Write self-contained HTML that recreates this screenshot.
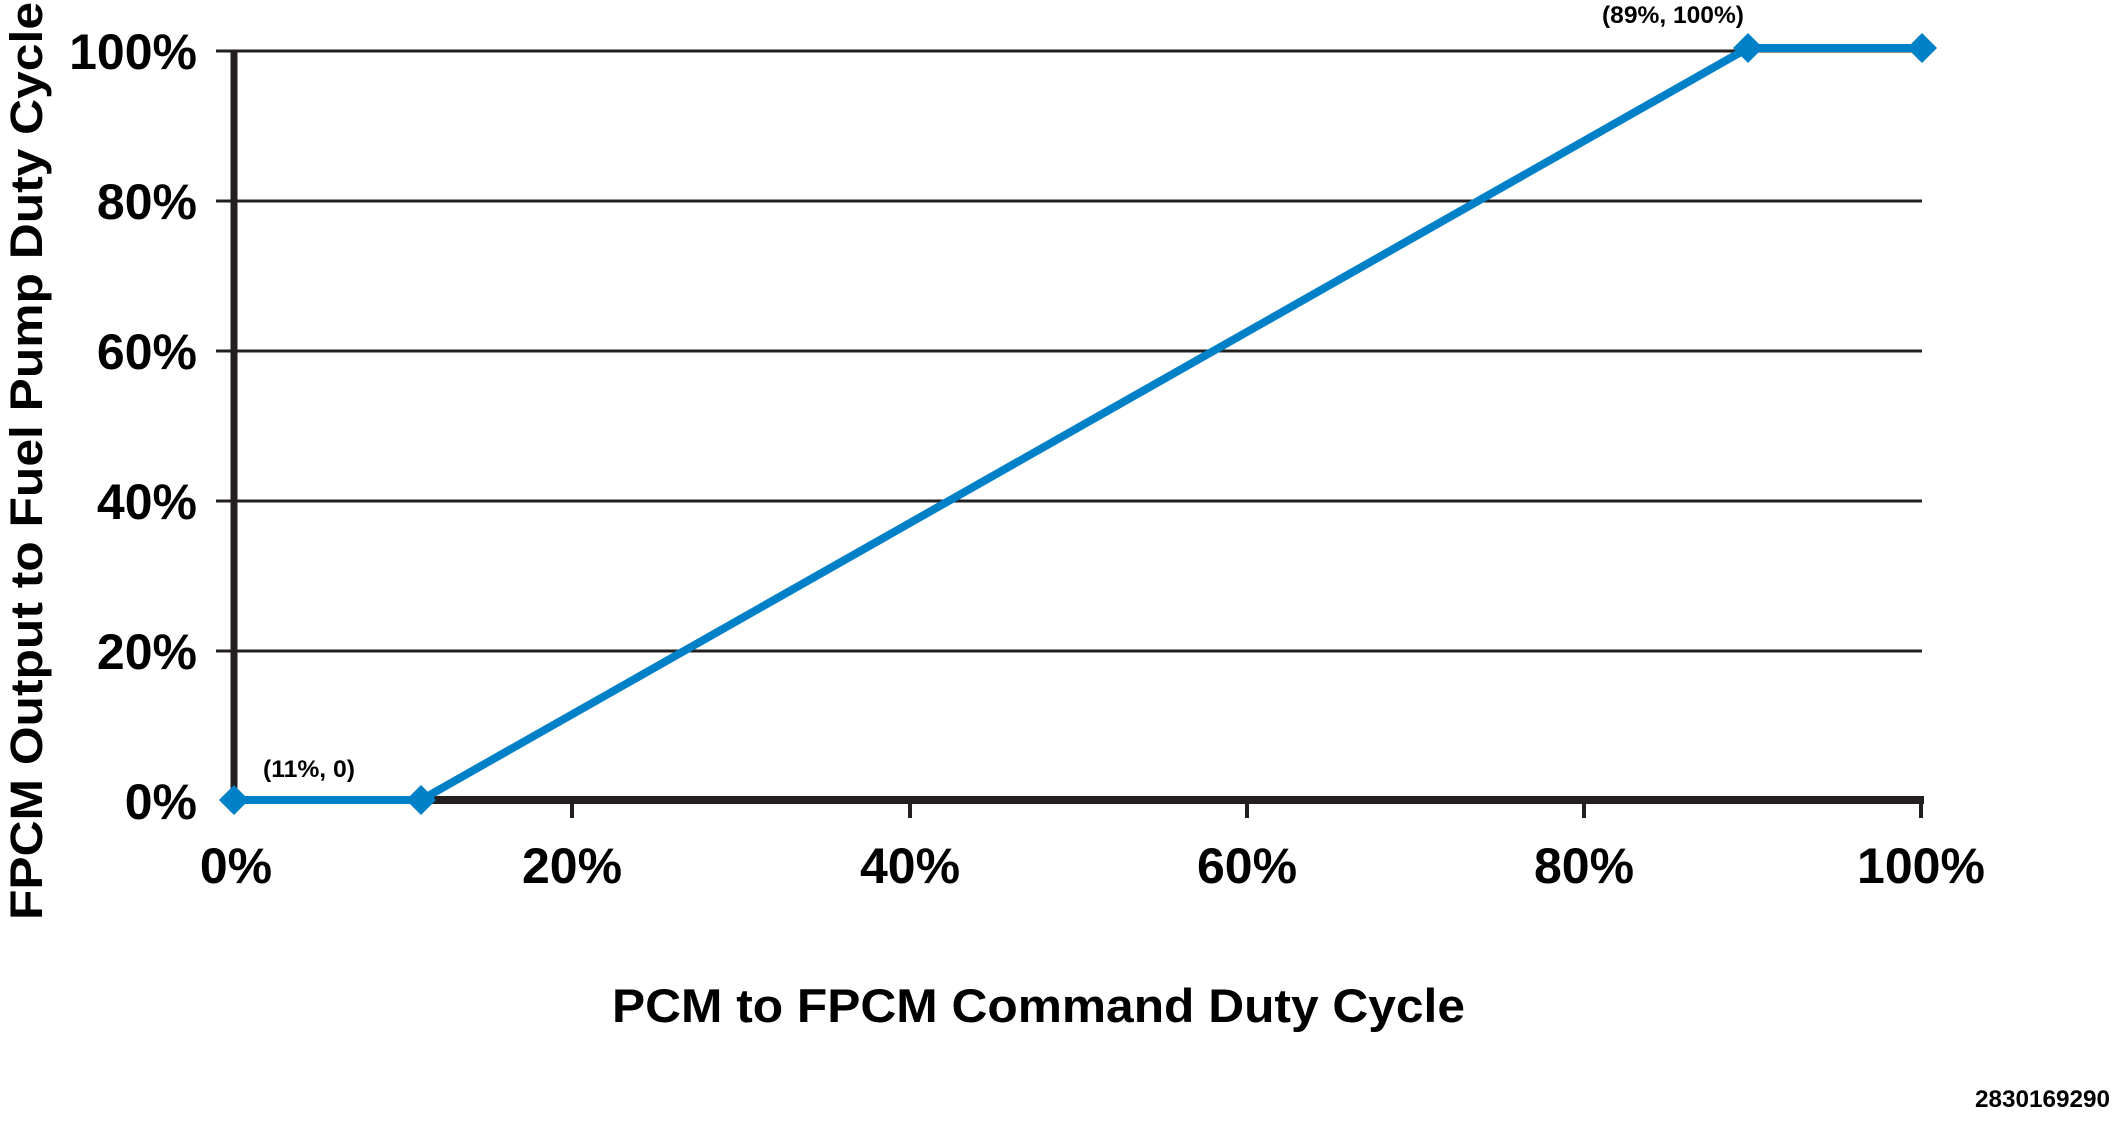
<!DOCTYPE html>
<html><head><meta charset="utf-8"><style>html,body{margin:0;padding:0;background:#fff}svg{display:block}</style></head>
<body>
<svg width="2112" height="1122" viewBox="0 0 2112 1122" xmlns="http://www.w3.org/2000/svg" font-family="Liberation Sans, Arial, sans-serif" font-weight="bold">
<g stroke="#231f20" stroke-width="3">
<line x1="216" y1="51" x2="1922" y2="51"/>
<line x1="216" y1="201" x2="1922" y2="201"/>
<line x1="216" y1="351" x2="1922" y2="351"/>
<line x1="216" y1="501" x2="1922" y2="501"/>
<line x1="216" y1="651" x2="1922" y2="651"/>
</g>
<line x1="234" y1="50" x2="234" y2="804" stroke="#231f20" stroke-width="7"/>
<line x1="230" y1="800" x2="1924" y2="800" stroke="#231f20" stroke-width="8"/>
<g stroke="#231f20" stroke-width="4">
<line x1="572" y1="800" x2="572" y2="818"/>
<line x1="910" y1="800" x2="910" y2="818"/>
<line x1="1247" y1="800" x2="1247" y2="818"/>
<line x1="1584" y1="800" x2="1584" y2="818"/>
<line x1="1921" y1="800" x2="1921" y2="818"/>
</g>
<g font-size="50" text-anchor="end" fill="#000">
<text x="197" y="69">100%</text>
<text x="197" y="219">80%</text>
<text x="197" y="369">60%</text>
<text x="197" y="519">40%</text>
<text x="197" y="669">20%</text>
<text x="197" y="819">0%</text>
</g>
<g font-size="50" text-anchor="middle" fill="#000">
<text x="236" y="883">0%</text>
<text x="572" y="883">20%</text>
<text x="910" y="883">40%</text>
<text x="1247" y="883">60%</text>
<text x="1584" y="883">80%</text>
<text x="1921" y="883">100%</text>
</g>
<polyline points="234,800 421,800 1748,48 1922,48" fill="none" stroke="#0080c6" stroke-width="8" stroke-linejoin="miter"/>
<g fill="#0080c6">
<polygon points="234,785 249,800 234,815 219,800"/>
<polygon points="421,785 436,800 421,815 406,800"/>
<polygon points="1748,33 1763,48 1748,63 1733,48"/>
<polygon points="1922,33 1937,48 1922,63 1907,48"/>
</g>
<text x="263" y="777" font-size="24" textLength="92" lengthAdjust="spacingAndGlyphs">(11%, 0)</text>
<text x="1602" y="23" font-size="24" textLength="142" lengthAdjust="spacingAndGlyphs">(89%, 100%)</text>
<text x="612" y="1022" font-size="47" textLength="853" lengthAdjust="spacingAndGlyphs">PCM to FPCM Command Duty Cycle</text>
<text transform="translate(42,920) rotate(-90)" x="0" y="0" font-size="45" textLength="918" lengthAdjust="spacingAndGlyphs">FPCM Output to Fuel Pump Duty Cycle</text>
<text x="1975" y="1107" font-size="24" textLength="135" lengthAdjust="spacingAndGlyphs">2830169290</text>
</svg>
</body></html>
